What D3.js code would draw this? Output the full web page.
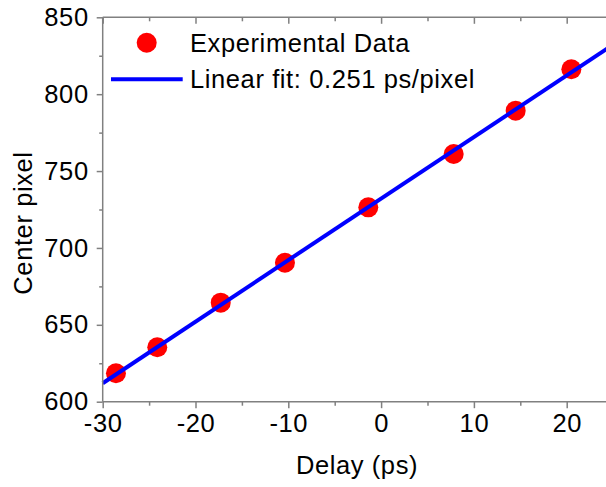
<!DOCTYPE html>
<html>
<head>
<meta charset="utf-8">
<script src="https://cdn.jsdelivr.net/npm/d3@7"></script>
<style>
  body { margin: 0; background: #fff; }
  svg { display: block; font-family: "Liberation Sans", Arial, sans-serif; }
  text { letter-spacing: 0.6px; }
</style>
</head>
<body>
<div id="chart-area"></div>
<script>
// measured points
const delays = [-28.57, -24.12, -17.28, -10.36, -1.38, 7.82, 14.5, 20.5];
const centers = [618.5, 635.4, 664.4, 690.4, 726.4, 761.1, 789.3, 816.2];
// linear fit, end points
const fitX = [-30, 25];
const fitY = [612.0, 832.2];
const xTicks = [-30, -20, -10, 0, 10, 20];
const yTicks = [600, 650, 700, 750, 800, 850];
const legendLabels = ["Experimental Data", "Linear fit: 0.251 ps/pixel"];

const main = () => {
    const chartSize = { width: 606, height: 487 };
    const axisColor = "#808080";
    const fontSize = 25.5;

    const svg = d3.select("#chart-area")
        .append("svg")
        .attr("width", chartSize.width)
        .attr("height", chartSize.height);

    const x = d3.scaleLinear().domain([-30, 25]).range([102.7, 613.1]);
    const y = d3.scaleLinear().domain([600, 850]).range([401.7, 17.3]);

    const minorX = d3.range(-25, 25, 10);
    const minorY = d3.range(625, 850, 50);

    // data
    const pts = delays.map((d, i) => ({ x: d, y: centers[i] }));
    svg.append("g").selectAll("circle").data(pts).enter()
        .append("circle")
        .attr("cx", d => x(d.x))
        .attr("cy", d => y(d.y))
        .attr("r", 10)
        .attr("fill", "#ff0000");

    const fit = fitX.map((d, i) => [d, fitY[i]]);
    svg.append("path")
        .datum(fit)
        .attr("d", d3.line().x(d => x(d[0])).y(d => y(d[1])))
        .attr("stroke", "#0000ff")
        .attr("stroke-width", 4)
        .attr("fill", "none");

    // axes
    const styleAxis = g => {
        g.select(".domain").remove();
        g.selectAll(".tick line").attr("stroke", axisColor).attr("stroke-width", 1.5);
        g.selectAll("text")
            .attr("fill", "#000")
            .attr("font-size", fontSize)
            .attr("font-family", "Liberation Sans, Arial, sans-serif");
    };

    const bottom = svg.append("g")
        .attr("transform", `translate(0, ${y(600)})`)
        .call(d3.axisBottom(x).tickValues(xTicks).tickSize(6.5).tickPadding(6).tickFormat(d3.format("d")))
        .call(styleAxis);
    bottom.selectAll(".tick text").text(d => d < 0 ? "-" + Math.abs(d) : d);
    svg.append("g")
        .attr("transform", `translate(0, ${y(600)})`)
        .call(d3.axisBottom(x).tickValues(minorX).tickSize(4).tickFormat(""))
        .call(styleAxis);

    svg.append("g")
        .attr("transform", `translate(0, ${y(850)})`)
        .call(d3.axisBottom(x).tickValues(xTicks).tickSize(6.5).tickFormat(""))
        .call(styleAxis);
    svg.append("g")
        .attr("transform", `translate(0, ${y(850)})`)
        .call(d3.axisBottom(x).tickValues(minorX).tickSize(4).tickFormat(""))
        .call(styleAxis);

    svg.append("g")
        .attr("transform", `translate(${x(-30)}, 0)`)
        .call(d3.axisLeft(y).tickValues(yTicks).tickSize(6).tickPadding(8).tickFormat(d3.format("d")))
        .call(styleAxis);
    svg.append("g")
        .attr("transform", `translate(${x(-30)}, 0)`)
        .call(d3.axisLeft(y).tickValues(minorY).tickSize(3.5).tickFormat(""))
        .call(styleAxis);

    // axis lines
    svg.append("line")
        .attr("x1", x(-30)).attr("x2", chartSize.width)
        .attr("y1", y(600)).attr("y2", y(600))
        .attr("stroke", axisColor).attr("stroke-width", 1.5);
    svg.append("line")
        .attr("x1", x(-30)).attr("x2", chartSize.width)
        .attr("y1", y(850)).attr("y2", y(850))
        .attr("stroke", axisColor).attr("stroke-width", 1.5);
    svg.append("line")
        .attr("x1", x(-30)).attr("x2", x(-30))
        .attr("y1", y(600)).attr("y2", y(850))
        .attr("stroke", axisColor).attr("stroke-width", 1.5);

    // axis labels
    svg.append("text")
        .text("Delay (ps)")
        .attr("x", 357)
        .attr("y", 474)
        .attr("text-anchor", "middle")
        .attr("font-size", fontSize);

    svg.append("text")
        .text("Center pixel")
        .attr("transform", "translate(31.5, 223) rotate(-90)")
        .attr("text-anchor", "middle")
        .attr("font-size", fontSize);

    // legend
    const legend = svg.append("g");
    legend.append("circle")
        .attr("cx", 146.7).attr("cy", 42.7).attr("r", 10)
        .attr("fill", "#ff0000");
    legend.append("line")
        .attr("x1", 111).attr("x2", 182.7)
        .attr("y1", 79.3).attr("y2", 79.3)
        .attr("stroke", "#0000ff").attr("stroke-width", 4);
    legend.selectAll("text").data(legendLabels).enter()
        .append("text")
        .text(d => d)
        .attr("x", 190)
        .attr("y", (d, i) => 51.7 + i * 36.6)
        .attr("font-size", fontSize);
};

window.onload = main;
</script>
</body>
</html>
